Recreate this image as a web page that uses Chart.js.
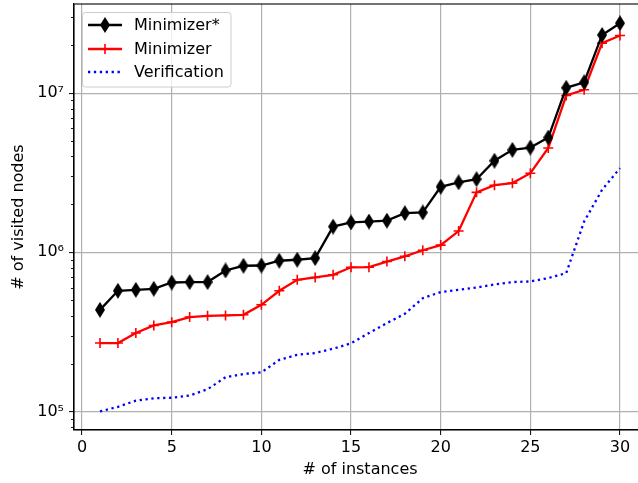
<!DOCTYPE html>
<html>
<head>
<meta charset="utf-8">
<script src="https://cdn.jsdelivr.net/npm/chart.js@4/dist/chart.umd.min.js"></script>
<style>
    html, body { margin: 0; padding: 0; background: #fff; overflow: hidden; }
    canvas { display: block; }
</style>
</head>
<body>
<canvas id="nodesChart" width="660" height="483"></canvas>
<script>
// Data
const instances = [1, 2, 3, 4, 5, 6, 7, 8, 9, 10, 11, 12, 13, 14, 15,
                   16, 17, 18, 19, 20, 21, 22, 23, 24, 25, 26, 27, 28, 29, 30];
const minimizerStar = [4.35e5, 5.73e5, 5.81e5, 5.90e5, 6.46e5, 6.50e5, 6.50e5, 7.69e5, 8.23e5, 8.26e5,
                       8.85e5, 8.98e5, 9.20e5, 1.45e6, 1.54e6, 1.56e6, 1.58e6, 1.76e6, 1.78e6, 2.58e6,
                       2.75e6, 2.88e6, 3.76e6, 4.40e6, 4.55e6, 5.26e6, 1.08e7, 1.17e7, 2.32e7, 2.75e7];
const minimizer = [2.69e5, 2.69e5, 3.11e5, 3.47e5, 3.64e5, 3.92e5, 3.99e5, 4.01e5, 4.05e5, 4.68e5,
                   5.73e5, 6.72e5, 6.95e5, 7.22e5, 8.05e5, 8.07e5, 8.75e5, 9.44e5, 1.03e6, 1.11e6,
                   1.36e6, 2.38e6, 2.64e6, 2.72e6, 3.14e6, 4.52e6, 9.66e6, 1.05e7, 2.06e7, 2.30e7];
const verification = [1.00e5, 1.07e5, 1.17e5, 1.21e5, 1.22e5, 1.26e5, 1.38e5, 1.64e5, 1.72e5, 1.76e5,
                      2.11e5, 2.27e5, 2.33e5, 2.48e5, 2.68e5, 3.11e5, 3.59e5, 4.11e5, 5.15e5, 5.62e5,
                      5.81e5, 6.01e5, 6.28e5, 6.50e5, 6.56e5, 6.89e5, 7.40e5, 1.56e6, 2.47e6, 3.38e6];
const xTicks = [0, 5, 10, 15, 20, 25, 30];
const yTicks = [1e5, 1e6, 1e7];
const seriesNames = ['Minimizer*', 'Minimizer', 'Verification'];

const FONT = 'DejaVu Sans';
const FONT_SIZE = 16;
const SUP = { '4': '\u2074', '5': '\u2075', '6': '\u2076', '7': '\u2077', '8': '\u2078' };
const DOTS = [2.3, 3.6];
const LINE_W = 2.3;

function toPoints(values) {
    return instances.map((x, i) => ({ x: x, y: values[i] }));
}

// thin diamond marker (matplotlib 'd')
function makeDiamond(w, h, color) {
    const c = document.createElement('canvas');
    c.width = w;
    c.height = h;
    const g = c.getContext('2d');
    g.fillStyle = color;
    g.beginPath();
    g.moveTo(w / 2, 0);
    g.lineTo(w, h / 2);
    g.lineTo(w / 2, h);
    g.lineTo(0, h / 2);
    g.closePath();
    g.fill();
    return c;
}
const diamond = makeDiamond(10, 16, '#000000');

function drawPlus(ctx, x, y, r) {
    ctx.beginPath();
    ctx.moveTo(x - r, y);
    ctx.lineTo(x + r, y);
    ctx.moveTo(x, y - r);
    ctx.lineTo(x, y + r);
    ctx.stroke();
}

// no extra room for the end tick labels: the plot box is pinned by hand
function noLabelPadding(scale) {
    scale.paddingTop = 0;
    scale.paddingBottom = 0;
    scale.paddingLeft = 0;
    scale.paddingRight = 0;
}

// spines, minor log ticks and the boxed legend, matplotlib style
const extrasPlugin = {
    id: 'extras',
    afterDraw(chart) {
        const ctx = chart.ctx;
        const area = chart.chartArea;
        const yScale = chart.scales.y;
        ctx.save();

        // minor ticks on the log axis
        ctx.strokeStyle = '#000';
        ctx.lineWidth = 0.9;
        for (let k = 4; k <= 7; k++) {
            for (let m = 2; m <= 9; m++) {
                const v = m * Math.pow(10, k);
                if (v < yScale.min || v > yScale.max) continue;
                const py = Math.round(yScale.getPixelForValue(v)) + 0.5;
                ctx.beginPath();
                ctx.moveTo(area.left, py);
                ctx.lineTo(area.left - 3, py);
                ctx.stroke();
            }
        }

        // spines
        ctx.lineWidth = 1.1;
        ctx.strokeStyle = '#000';
        ctx.strokeRect(area.left, area.top, area.right - area.left, area.bottom - area.top);

        // legend
        const bx = 82.5, by = 12.5, bw = 148.5, bh = 74.5;
        ctx.beginPath();
        ctx.roundRect(bx, by, bw, bh, 3);
        ctx.fillStyle = 'rgba(255,255,255,0.8)';
        ctx.fill();
        ctx.strokeStyle = '#cccccc';
        ctx.lineWidth = 1;
        ctx.stroke();

        const rows = [25, 49, 72];
        const x0 = 88, x1 = 122, xm = 105;
        ctx.lineWidth = LINE_W;
        ctx.lineCap = 'butt';

        ctx.strokeStyle = '#000000';
        ctx.beginPath();
        ctx.moveTo(x0, rows[0]);
        ctx.lineTo(x1, rows[0]);
        ctx.stroke();
        ctx.drawImage(diamond, xm - diamond.width / 2, rows[0] - diamond.height / 2);

        ctx.strokeStyle = '#ff0000';
        ctx.beginPath();
        ctx.moveTo(x0, rows[1]);
        ctx.lineTo(x1, rows[1]);
        ctx.stroke();
        ctx.lineWidth = 1.6;
        drawPlus(ctx, xm, rows[1], 5);

        ctx.lineWidth = LINE_W;
        ctx.strokeStyle = '#0000ff';
        ctx.setLineDash(DOTS);
        ctx.beginPath();
        ctx.moveTo(x0, rows[2]);
        ctx.lineTo(x1, rows[2]);
        ctx.stroke();
        ctx.setLineDash([]);

        ctx.fillStyle = '#000';
        ctx.font = FONT_SIZE + 'px "' + FONT + '"';
        ctx.textBaseline = 'middle';
        ctx.textAlign = 'left';
        seriesNames.forEach((name, i) => ctx.fillText(name, 134, rows[i] + 1));

        ctx.restore();
    }
};

const ctx = document.getElementById('nodesChart').getContext('2d');
const nodesChart = new Chart(ctx, {
    type: 'line',
    data: {
        datasets: [{
            label: seriesNames[0],
            data: toPoints(minimizerStar),
            borderColor: '#000000',
            borderWidth: LINE_W,
            pointStyle: diamond,
            pointRadius: 6,
            tension: 0
        },
        {
            label: seriesNames[1],
            data: toPoints(minimizer),
            borderColor: '#ff0000',
            borderWidth: LINE_W,
            pointStyle: 'cross',
            pointRadius: 5,
            pointBorderWidth: 1.6,
            pointBorderColor: '#ff0000',
            tension: 0
        },
        {
            label: seriesNames[2],
            data: toPoints(verification),
            borderColor: '#0000ff',
            borderWidth: LINE_W,
            borderDash: DOTS,
            pointRadius: 0,
            tension: 0
        }]
    },
    options: {
        responsive: false,
        animation: false,
        devicePixelRatio: 1,
        layout: {
            autoPadding: false,
            padding: { top: 4, right: 14, left: 0, bottom: 0 }
        },
        plugins: {
            legend: { display: false },
            tooltip: { enabled: false }
        },
        scales: {
            x: {
                type: 'linear',
                min: -0.45,
                max: 31.45,
                afterBuildTicks: (scale) => {
                    scale.ticks = xTicks.map(v => ({ value: v }));
                },
                afterFit: (scale) => {
                    scale.height = 53;
                    noLabelPadding(scale);
                },
                grid: {
                    color: '#b0b0b0',
                    lineWidth: 1.2,
                    tickColor: '#000',
                    tickLength: 5,
                    tickWidth: 1
                },
                border: { color: '#000', width: 1.1 },
                ticks: {
                    color: '#000',
                    padding: 3,
                    maxRotation: 0,
                    font: { family: FONT, size: FONT_SIZE }
                },
                title: {
                    display: true,
                    text: '# of instances',
                    color: '#000',
                    padding: { top: 0, bottom: 3.4 },
                    font: { family: FONT, size: FONT_SIZE }
                }
            },
            y: {
                type: 'logarithmic',
                min: 76500,
                max: 3.63e7,
                afterBuildTicks: (scale) => {
                    scale.ticks = yTicks.map(v => ({ value: v }));
                },
                afterFit: (scale) => {
                    scale.width = 74;
                    noLabelPadding(scale);
                },
                grid: {
                    color: '#b0b0b0',
                    lineWidth: 1.2,
                    tickColor: '#000',
                    tickLength: 5,
                    tickWidth: 1
                },
                border: { color: '#000', width: 1.1 },
                ticks: {
                    color: '#000',
                    padding: 5,
                    font: { family: FONT, size: FONT_SIZE },
                    callback: (value) => {
                        const exp = String(Math.round(Math.log10(value)));
                        return '10' + exp.split('').map(d => SUP[d]).join('');
                    }
                },
                title: {
                    display: true,
                    text: '# of visited nodes',
                    color: '#000',
                    padding: { top: 9.4, bottom: 0 },
                    font: { family: FONT, size: FONT_SIZE }
                }
            }
        }
    },
    plugins: [extrasPlugin]
});
</script>
</body>
</html>
